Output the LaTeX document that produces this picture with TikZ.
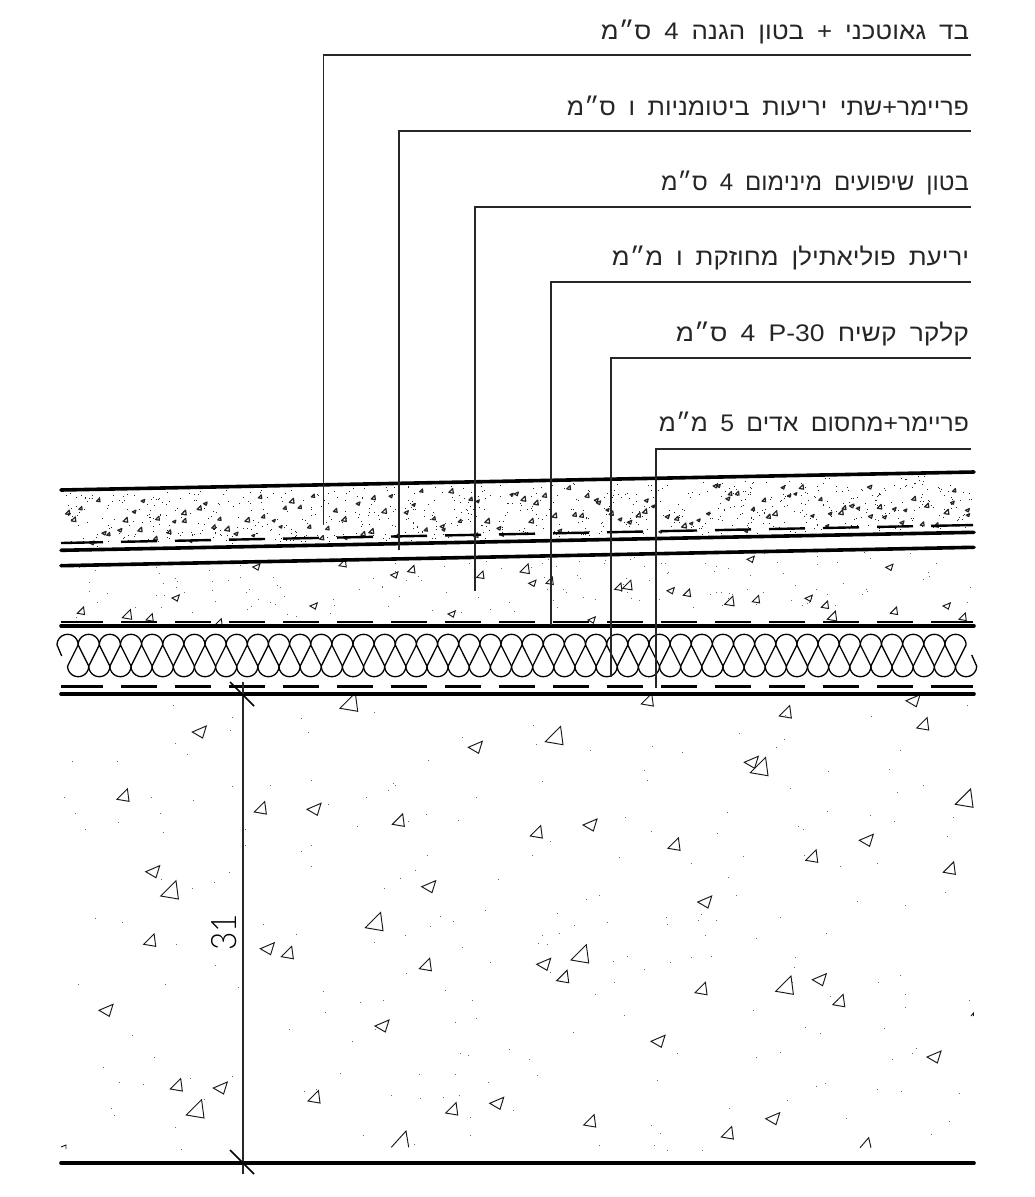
\documentclass[tikz,border=0pt]{standalone}
\usepackage{graphicx}
\usepackage{fontspec}
\TeXXeTstate=1
\setmainfont{Liberation Sans}
\newfontfamily\hebfont[Script=Hebrew,WordSpace=1.8]{Liberation Sans}
\newfontfamily\dimfont{Lato Light}
\newcommand\hebline[2]{\resizebox{#1pt}{\height}{\hebfont\fontsize{24}{24}\selectfont #2}}
\newcommand\triU[3]{\draw[tri] (#1,#2) -- ++({15.3*#3},{-15.3*#3}) -- ++({2.4*#3},{18.3*#3}) -- cycle;}
\newcommand\triL[3]{\draw[tri] (#1,#2) -- ++({14*#3},{-6*#3}) -- ++({-3.7*#3},{12*#3}) -- cycle;}
\tikzset{
  tri/.style={line width=0.95pt,line join=miter,draw=black!90},
  blob/.style={line width=1.2pt,line join=round,draw=black!85},
  leader/.style={line width=1.5pt,draw=black!85},
  heavy/.style={line width=3.6pt,line cap=round},
  dashseg/.style={line width=2.4pt},
  coilline/.style={line width=1.3pt},
  tick/.style={line width=1.6pt},
  dimline/.style={line width=1.8pt,draw=black!85},
  label/.style={anchor=base east,inner sep=0pt,outer sep=0pt,text=black!85},
}
\begin{document}
\begin{tikzpicture}[x=1pt,y=-1pt]
\useasboundingbox (0,0) rectangle (1035,1197);
\fill[white] (0,0) rectangle (1035,1197);

% ---- speckle: top concrete layer
\pgfmathsetseed{4711}
\foreach \i in {1,...,760}{
  \pgfmathsetmacro\xa{62+910*rnd}
  \pgfmathsetmacro\ya{493-0.0203*(\xa-61)+54*rnd}
  \fill[black!85] (\xa,\ya) rectangle +(1,1);
}
\foreach \i in {0,...,129}{
  \pgfmathsetmacro\xa{63+7*\i+7*rnd}
  \pgfmathsetmacro\ya{499-0.0203*(\xa-61)+46*rnd}
  \pgfmathsetmacro\sa{0.18+0.1*rnd}
  \pgfmathparse{rnd<0.5?1:0}
  \ifnum\pgfmathresult=1
    \draw[blob] (\xa,\ya) -- ++({15.3*\sa},{-15.3*\sa}) -- ++({2.4*\sa},{18.3*\sa}) -- cycle;
  \else
    \draw[blob] (\xa,\ya) -- ++({16*\sa},{-7*\sa}) -- ++({-4*\sa},{14*\sa}) -- cycle;
  \fi
}
% ---- speckle: screed
\foreach \i in {1,...,150}{
  \pgfmathsetmacro\xa{62+910*rnd}
  \pgfmathsetmacro\ya{565-0.0203*(\xa-61)+56*rnd}
  \fill[black!60] (\xa,\ya) rectangle +(1,1);
}
% ---- speckle: structural concrete
\foreach \i in {1,...,220}{
  \pgfmathsetmacro\xa{61+912*rnd}
  \pgfmathsetmacro\ya{697+460*rnd}
  \fill[black!60] (\xa,\ya) rectangle +(1,1);
}

% ---- screed aggregate
\foreach \a/\b in {252.7/567,390.7/575,172/598,310/606,448/614,528.7/583.3,667/590.7,805/598.3,747/559.3,885.7/567.3,943/606,588/620}
  {\triL{\a}{\b}{0.52}}
\foreach \a/\b in {339/565.7,407.7/571.7,77.3/613.3,146/620,215/625,476.7/577.3,546/583.3,614.7/589.3,683.3/595.3,752.3/601.7,821.3/607.3,890.3/613.3,959/619.3}
  {\triU{\a}{\b}{0.41}}
\foreach \a/\b in {122.3/617.7,520/572,622.7/588.3,724.7/604.3,827.3/619.3}
  {\triU{\a}{\b}{0.53}}

% ---- structural concrete aggregate
\foreach \a/\b in {340/708.3,160.7/896,365.3/927.7,186.3/1115,545.3/741.7,750.3/772.7,955.3/804.3,571/960,775.7/991.3}
  {\triU{\a}{\b}{1}}
\foreach \a/\b in {117/799.3,254.3/812,392.3/824.3,143.7/944.3,281.3/956.7,419.3/968.7,170.3/1089,308/1101,445.7/1113,641.3/704,779.3/716,916.7/728,530.3/836,668/848.3,805.7/860.3,943.3/872.3,556.7/980.7,695/992.7,832.7/1004.7,583.7/1125,721.3/1137}
  {\triU{\a}{\b}{0.68}}
\foreach \a/\b in {192.3/732,468.3/747.3,307/809.3,145.7/871.7,421.7/886.7,260.3/948.7,99/1010.3,375/1026,213.3/1088,489.7/1103.3,906/700.7,744.3/762.3,583/825,859.3/840.3,697.7/902,536.7/964.3,812.3/979.7,651/1041.3,927/1057,765.7/1118.7}
  {\triL{\a}{\b}{1}}
\draw[tri] (391.3,1147.3) -- (406,1131) -- (408.7,1147.3);
\draw[tri] (860,1147.7) -- (868.7,1137.7) -- (871,1147.7);
\draw[tri] (61,1147) -- (66,1145) -- (66,1149);
\draw[tri] (971,1016) -- (973.5,1013) -- (973.5,1016);

% ---- insulation coil
\begin{scope}[coilline,line join=round]
\draw (61.7,656) -- (57.02,644.9);
\foreach \k in {0,...,41}{
  \pgfmathsetmacro\cx{67.6+21.14*\k}
  \draw plot[domain=180:0,samples=17] ({\cx+10.58*cos(\x)},{644.9-10.58*sin(\x)})
     -- plot[domain=180:360,samples=17] ({\cx+10.57+10.58*cos(\x)},{666.1-10.58*sin(\x)})
     -- ({\cx+21.14-10.58},644.9);
}
\draw plot[domain=180:0,samples=17] ({955.5+10.58*cos(\x)},{644.9-10.58*sin(\x)})
     -- plot[domain=180:360,samples=17] ({966.07+10.58*cos(\x)},{666.1-10.58*sin(\x)})
     -- (971.7,655);
\end{scope}

% ---- layer lines
\draw[heavy] (61,490) -- (974,472);
\draw[heavy] (61,550.3) -- (974,532.3);
\draw[heavy] (61,565.7) -- (974,547.3);
\draw[heavy] (61,625.7) -- (974,625.7);
\draw[heavy] (61,694) -- (974,694);
\draw[heavy] (61,1163) -- (974,1163);

% ---- dashed membranes
\draw[dashseg] (61,543) -- (103,{543-42*0.0197});
\draw[dashseg] (931,{543-870*0.0197}) -- (973,{543-912*0.0197});
\foreach \a in {121,175,...,877}{
  \draw[dashseg] (\a,{543-(\a-61)*0.0197}) -- (\a+36,{543-(\a+36-61)*0.0197});
}
\foreach \y in {622,686.3}{
  \draw[dashseg] (61,\y) -- (103,\y);
  \draw[dashseg] (931,\y) -- (973,\y);
  \foreach \a in {121,175,...,877}{\draw[dashseg] (\a,\y) -- (\a+36,\y);}
}

% ---- labels
\node[label] (t1) at (969,39) {\hebline{368}{\beginR בד גאוטכני + בטון הגנה 4 ס״מ\endR}};
\node[label] (t2) at (969,115) {\hebline{402}{\beginR פריימר+שתי יריעות ביטומניות ו ס״מ\endR}};
\node[label] (t3) at (969,190) {\hebline{308}{\beginR בטון שיפועים מינימום 4 ס״מ\endR}};
\node[label] (t4) at (969,265.7) {\hebline{357}{\beginR יריעת פוליאתילן מחוזקת ו מ״מ\endR}};
\node[label] (t5) at (969,341) {\hebline{293}{\beginR קלקר קשיח \beginL P-30\endL{} 4 ס״מ\endR}};
\node[label] (t6) at (969,431.7) {\hebline{310}{\beginR פריימר+מחסום אדים 5 מ״מ\endR}};

% ---- leaders
\draw[leader] (971,55) -- (323.5,55) -- (323.5,525);
\draw[leader] (971,131) -- (399,131) -- (399,550);
\draw[leader] (971,207) -- (475,207) -- (475,590.5);
\draw[leader] (971,282) -- (551,282) -- (551,625);
\draw[leader] (971,358) -- (611,358) -- (611,677);
\draw[leader] (971,449) -- (656,449) -- (656,688);

% ---- dimension
\draw[dimline] (242.7,682) -- (242.7,1174);
\draw[tick] (230,682) -- (254,706);
\draw[tick] (230,1150) -- (254,1174);
\node[inner sep=0pt,rotate=90,anchor=center,text=black] (dim) at (224.5,932) {\scalebox{0.9}[1]{\dimfont\fontsize{35}{35}\selectfont 31}};
\end{tikzpicture}
\end{document}
